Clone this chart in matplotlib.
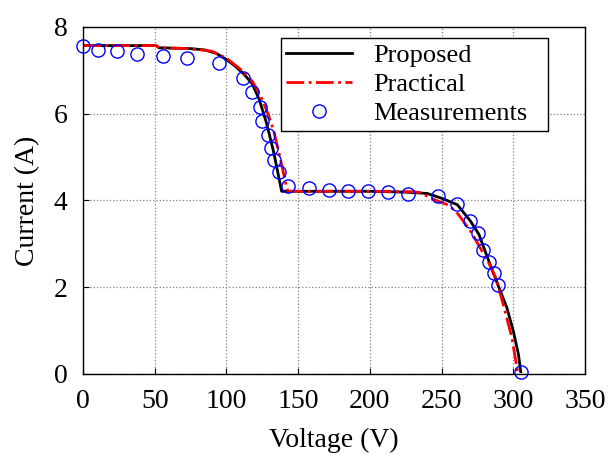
"""I-V curve: proposed model vs practical model vs measurements."""

import matplotlib

matplotlib.use("Agg")
import matplotlib.pyplot as plt

plt.rcParams["font.family"] = ["Liberation Serif", "DejaVu Serif"]
plt.rcParams["mathtext.fontset"] = "stix"

# Proposed model (black solid)
prop_v = [0, 51, 53, 75, 85, 93, 100, 106, 112, 118, 123, 128, 132.7, 136, 138.5,
          150, 200, 225, 240, 250, 261, 270, 276, 283.3, 289.2, 295.5, 300, 303.6, 305.2]
prop_i = [7.57, 7.57, 7.52, 7.50, 7.47, 7.39, 7.25, 7.10, 6.92, 6.69, 6.32, 5.78, 5.15, 4.62, 4.21,
          4.21, 4.21, 4.19, 4.16, 4.05, 3.90, 3.53, 3.22, 2.57, 2.06, 1.53, 0.99, 0.45, 0.05]

# Practical model (red dash-dot)
prac_v = [0, 51, 53, 75, 90, 100, 110, 118, 124, 129, 133, 137, 140, 142, 143,
          200, 230, 235, 244, 254, 260, 265, 271, 277, 283, 288, 293, 299, 303]
prac_i = [7.57, 7.57, 7.52, 7.50, 7.44, 7.28, 7.02, 6.75, 6.40, 6.00, 5.60, 5.05, 4.60, 4.30, 4.21,
          4.21, 4.20, 4.18, 4.03, 3.90, 3.75, 3.53, 3.25, 2.90, 2.55, 2.20, 1.60, 0.84, 0.05]

# Measured points (blue circles)
meas_v = [0.2, 10.3, 24, 37.5, 55.7, 72.4, 95.1, 111.8, 117.6, 123.4, 125.0, 129.2, 131.1,
          133.2, 136.9, 143.2, 157.8, 171.5, 185, 199, 212.9, 226.8, 247.8, 261.0, 269.9,
          275.7, 279.2, 283.3, 286.6, 289.2, 305.4]
meas_i = [7.57, 7.48, 7.44, 7.37, 7.33, 7.29, 7.18, 6.83, 6.50, 6.15, 5.82, 5.50, 5.21,
          4.94, 4.65, 4.34, 4.29, 4.25, 4.21, 4.21, 4.19, 4.15, 4.09, 3.92, 3.53,
          3.25, 2.86, 2.57, 2.33, 2.06, 0.05]

x_ticks = [0, 50, 100, 150, 200, 250, 300, 350]
y_ticks = [0, 2, 4, 6, 8]

fig = plt.figure(figsize=(6.1, 4.57), dpi=100)
ax = fig.add_axes([0.136, 0.182, 0.823, 0.759])

ax.plot(prop_v, prop_i, color="black", lw=2.0, label="Proposed")
ax.plot(prac_v, prac_i, color="red", lw=2.0, ls="-.", label="Practical")
ax.plot(meas_v, meas_i, ls="none", marker="o", ms=9.5, mfc="none", mec="blue",
        mew=1.0, label="Measurements", clip_on=False)

ax.set_xlim(0, 350)
ax.set_ylim(0, 8)
ax.set_xticks(x_ticks)
ax.set_yticks(y_ticks)
ax.tick_params(direction="in", labelsize=20, length=4)
ax.tick_params(axis="x", pad=11)
ax.tick_params(axis="y", pad=11)
ax.grid(True, color="gray", ls=":", lw=0.9)
for sp in ax.spines.values():
    sp.set_linewidth(1.0)

ax.set_xlabel("Voltage (V)", fontsize=20, labelpad=10)
ax.set_ylabel("Current (A)", fontsize=20, labelpad=10)

# legend box stretched to the reference width, content left-aligned
leg = ax.legend(loc="upper left", bbox_to_anchor=(0.394, 0.5, 0.532, 0.468),
                mode="expand", borderaxespad=0, fontsize=19, frameon=True,
                fancybox=False, edgecolor="black", framealpha=1, handlelength=2.5,
                labelspacing=0.22, borderpad=0.2, handletextpad=0.8)
leg.get_frame().set_linewidth(1.0)

fig.savefig("out.png", dpi=100)
